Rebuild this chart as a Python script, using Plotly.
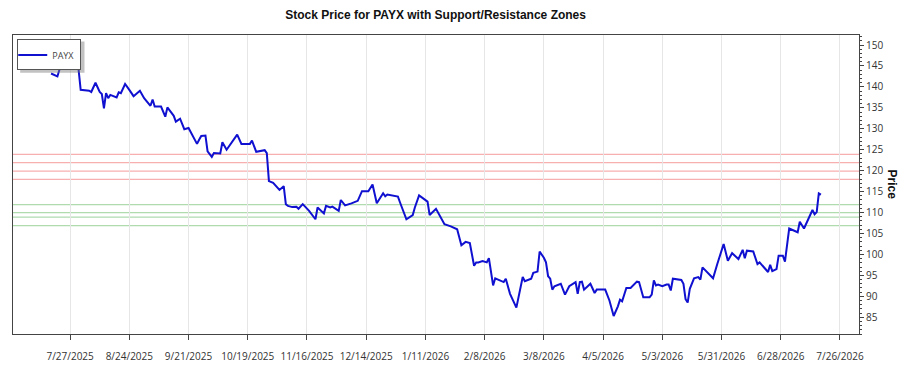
import plotly.graph_objects as go

dates = [
    "2025-07-18", "2025-07-21", "2025-07-22", "2025-07-23", "2025-07-24", "2025-07-25",
    "2025-07-27", "2025-07-29", "2025-07-30", "2025-07-31", "2025-08-01", "2025-08-03",
    "2025-08-05", "2025-08-06", "2025-08-08", "2025-08-10", "2025-08-11", "2025-08-12",
    "2025-08-13", "2025-08-14", "2025-08-15", "2025-08-18", "2025-08-19", "2025-08-20",
    "2025-08-22", "2025-08-24", "2025-08-26", "2025-08-29", "2025-08-31", "2025-09-03",
    "2025-09-04", "2025-09-05", "2025-09-08", "2025-09-10", "2025-09-11", "2025-09-14",
    "2025-09-15", "2025-09-17", "2025-09-19", "2025-09-21", "2025-09-23", "2025-09-25",
    "2025-09-26", "2025-09-27", "2025-09-29", "2025-09-30", "2025-10-02", "2025-10-03",
    "2025-10-06", "2025-10-07", "2025-10-09", "2025-10-14", "2025-10-16", "2025-10-20",
    "2025-10-21", "2025-10-23", "2025-10-27", "2025-10-28", "2025-10-29", "2025-10-31",
    "2025-11-03", "2025-11-05", "2025-11-06", "2025-11-07", "2025-11-09", "2025-11-11",
    "2025-11-12", "2025-11-14", "2025-11-17", "2025-11-20", "2025-11-21", "2025-11-24",
    "2025-11-25", "2025-11-27", "2025-11-28", "2025-12-01", "2025-12-02", "2025-12-04",
    "2025-12-07", "2025-12-10", "2025-12-12", "2025-12-15", "2025-12-17", "2025-12-19",
    "2025-12-22", "2025-12-23", "2025-12-24", "2025-12-29", "2025-12-30", "2026-01-02",
    "2026-01-05", "2026-01-06", "2026-01-08", "2026-01-12", "2026-01-13", "2026-01-16",
    "2026-01-20", "2026-01-23", "2026-01-26", "2026-01-28", "2026-01-30", "2026-02-01",
    "2026-02-03", "2026-02-04", "2026-02-05", "2026-02-07", "2026-02-09", "2026-02-10",
    "2026-02-12", "2026-02-13", "2026-02-17", "2026-02-18", "2026-02-20", "2026-02-23",
    "2026-02-26", "2026-02-27", "2026-03-02", "2026-03-03", "2026-03-05", "2026-03-06",
    "2026-03-08", "2026-03-09", "2026-03-10", "2026-03-11", "2026-03-12", "2026-03-13",
    "2026-03-16", "2026-03-18", "2026-03-20", "2026-03-23", "2026-03-24", "2026-03-25",
    "2026-03-26", "2026-03-27", "2026-03-30", "2026-04-01", "2026-04-02", "2026-04-06",
    "2026-04-08", "2026-04-10", "2026-04-12", "2026-04-13", "2026-04-14", "2026-04-16",
    "2026-04-18", "2026-04-21", "2026-04-22", "2026-04-24", "2026-04-27", "2026-04-28",
    "2026-04-29", "2026-04-30", "2026-05-01", "2026-05-03", "2026-05-05", "2026-05-06",
    "2026-05-07", "2026-05-08", "2026-05-12", "2026-05-13", "2026-05-14", "2026-05-15",
    "2026-05-16", "2026-05-18", "2026-05-20", "2026-05-21", "2026-05-22", "2026-05-27",
    "2026-05-29", "2026-06-01", "2026-06-03", "2026-06-05", "2026-06-08", "2026-06-10",
    "2026-06-11", "2026-06-12", "2026-06-15", "2026-06-17", "2026-06-18", "2026-06-22",
    "2026-06-23", "2026-06-24", "2026-06-26", "2026-06-27", "2026-06-29", "2026-06-30",
    "2026-07-02", "2026-07-06", "2026-07-07", "2026-07-09", "2026-07-13", "2026-07-14",
    "2026-07-15", "2026-07-16", "2026-07-17",
]

prices = [
    143.2, 142.5, 144.2, 145.2, 146.8, 147.8,
    146.5, 147.2, 146.0, 144.2, 139.3, 139.2,
    139.1, 138.8, 141.0, 138.8, 138.3, 134.9,
    138.5, 137.3, 138.1, 137.5, 138.7, 138.5,
    140.7, 139.3, 137.8, 139.1, 137.3, 135.5,
    137.0, 135.3, 135.3, 132.9, 135.1, 133.1,
    131.7, 132.4, 129.9, 130.2, 128.2, 126.4,
    127.4, 128.3, 128.4, 124.6, 123.3, 124.2,
    124.1, 126.8, 125.0, 128.6, 126.4, 126.4,
    127.2, 124.5, 124.9, 124.2, 117.5, 117.1,
    115.4, 116.3, 112.0, 111.6, 111.3, 111.4,
    110.9, 112.0, 110.4, 108.4, 111.2, 109.8,
    111.6, 111.2, 111.4, 110.4, 113.0, 111.7,
    112.2, 112.8, 115.1, 115.1, 116.7, 112.2,
    114.6, 113.9, 114.3, 113.8, 112.4, 108.4,
    109.4, 111.2, 114.1, 112.6, 109.4, 110.9,
    107.2, 106.7, 106.0, 102.2, 103.0, 102.7,
    97.3, 98.1, 98.1, 98.4, 98.1, 99.1,
    92.6, 94.3, 93.4, 94.2, 90.6, 87.3,
    94.6, 93.6, 94.2, 95.6, 95.9, 100.7,
    99.2, 98.1, 94.8, 94.2, 91.6, 92.4,
    93.0, 90.4, 92.4, 93.4, 90.6, 93.4,
    93.5, 91.6, 93.0, 90.8, 91.6, 91.6,
    89.0, 85.3, 87.6, 89.2, 88.8, 92.0,
    92.0, 93.5, 93.4, 89.8, 89.8, 90.4,
    93.8, 92.6, 92.8, 92.4, 92.8, 92.8,
    91.4, 94.2, 93.9, 93.0, 89.3, 88.5,
    91.8, 94.3, 94.6, 94.0, 96.9, 94.3,
    97.7, 102.5, 98.5, 100.3, 98.9, 101.1,
    99.1, 100.9, 100.7, 97.7, 98.1, 95.8,
    97.5, 96.0, 96.5, 99.7, 99.7, 98.3,
    106.2, 105.3, 107.8, 106.2, 110.6, 109.6,
    110.1, 114.6, 114.3,
]

resistance_levels = [123.9, 121.9, 119.9, 117.9]
support_levels = [111.9, 110.0, 108.9, 106.9]

ticker = "PAYX"
title_text = "Stock Price for PAYX with Support/Resistance Zones"
y_title = "Price"

fig = go.Figure()
fig.add_trace(go.Scatter(
    x=dates, y=prices, mode="lines", name=ticker,
    line=dict(color="#1010d0", width=2),
))

for lv in resistance_levels:
    fig.add_hline(y=lv, line=dict(color="rgba(240,110,110,0.55)", width=1.2), layer="below")
for lv in support_levels:
    fig.add_hline(y=lv, line=dict(color="rgba(110,190,110,0.55)", width=1.2), layer="below")

# soft drop shadow behind the legend box
fig.add_shape(type="rect", xref="paper", yref="paper",
              x0=0.0085, x1=0.0845, y0=0.874, y1=0.978,
              fillcolor="rgba(120,120,120,0.45)", line=dict(width=0), layer="above")

fig.update_layout(
    width=900, height=375,
    margin=dict(l=12, r=41, t=35, b=39),
    paper_bgcolor="white", plot_bgcolor="white",
    font=dict(family="Open Sans, sans-serif", size=10, color="#333333"),
    title=dict(text="<b>" + title_text + "</b>", x=0.484, xanchor="center", y=0.96, yanchor="middle",
               font=dict(family="Liberation Sans, Arial, sans-serif", size=12, color="#111111")),
    showlegend=True,
    legend=dict(x=0.005, y=0.985, xanchor="left", yanchor="top",
                bgcolor="white", bordercolor="#555555", borderwidth=1,
                font=dict(size=9, color="#444444"), itemwidth=30,
                indentation=-6, tracegroupgap=0),
    xaxis=dict(
        type="date",
        range=["2025-06-30", "2026-08-04"],
        tick0="2025-07-27", dtick=28 * 86400000,
        tickformat="%-m/%-d/%Y",
        showgrid=True, gridcolor="#e6e6e6", gridwidth=1,
        ticks="outside", ticklen=5, tickcolor="#444444",
        showline=True, linecolor="#444444", linewidth=1, mirror=True,
        ticklabelstandoff=8,
        tickfont=dict(size=10, color="#333333"),
        zeroline=False,
    ),
    yaxis=dict(
        side="right",
        range=[81.0, 152.4],
        tick0=85, dtick=5,
        showgrid=False,
        ticks="outside", ticklen=4, tickcolor="#444444",
        minor=dict(dtick=1, ticks="outside", ticklen=2, tickcolor="#444444", showgrid=False),
        showline=True, linecolor="#444444", linewidth=1, mirror=True,
        tickfont=dict(size=10, color="#333333"),
        zeroline=False,
    ),
    annotations=[dict(
        text="<b>" + y_title + "</b>", xref="paper", yref="paper",
        x=1.0, xanchor="center", xshift=33, y=0.5, yanchor="middle", textangle=90, showarrow=False,
        font=dict(family="Liberation Sans, Arial, sans-serif", size=12, color="#111111"),
    )],
)

fig.write_html("out.html")
